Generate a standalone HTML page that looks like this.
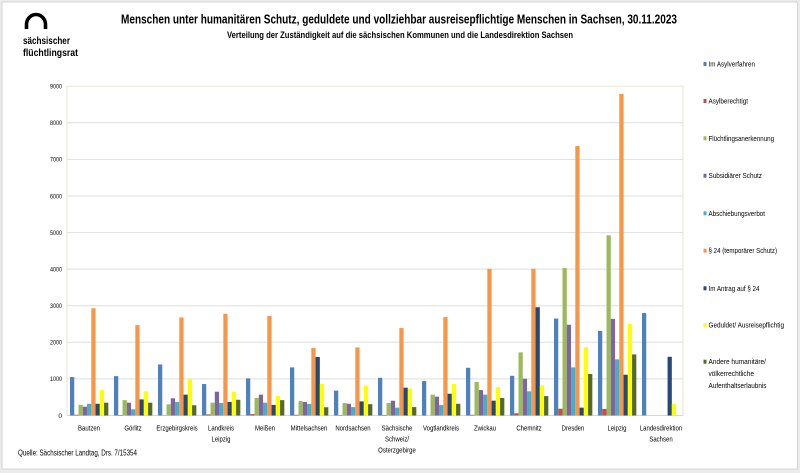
<!DOCTYPE html>
<html><head><meta charset="utf-8"><style>
html,body{margin:0;padding:0;background:#ebebeb;}
svg{display:block;}
text{font-family:"Liberation Sans",sans-serif;fill:#000;}
</style></head><body>
<svg width="800" height="473" viewBox="0 0 800 473" xmlns="http://www.w3.org/2000/svg">
<rect x="0" y="0" width="800" height="473" fill="#ebebeb"/>
<rect x="2" y="2" width="795.5" height="467" fill="#ffffff" stroke="#d4d4d4" stroke-width="1"/>

<!-- logo -->
<path d="M26.5,29 L26.5,24.5 A9.5,10 0 0 1 45.5,24.5 L45.5,29" fill="none" stroke="#000" stroke-width="3.6"/>
<text x="23" y="44" font-size="10" font-weight="bold" textLength="47" lengthAdjust="spacingAndGlyphs">sächsischer</text>
<text x="23" y="56" font-size="10" font-weight="bold" textLength="55" lengthAdjust="spacingAndGlyphs">flüchtlingsrat</text>

<!-- titles -->
<text x="121" y="23.5" font-size="13" font-weight="bold" textLength="556" lengthAdjust="spacingAndGlyphs">Menschen unter humanitären Schutz, geduldete und vollziehbar ausreisepflichtige Menschen in Sachsen, 30.11.2023</text>
<text x="227" y="38" font-size="9.5" font-weight="bold" textLength="346" lengthAdjust="spacingAndGlyphs">Verteilung der Zuständigkeit auf die sächsischen Kommunen und die Landesdirektion Sachsen</text>

<!-- gridlines -->
<g stroke="#dedede" stroke-width="1">
<line x1="67" x2="683" y1="122.8" y2="122.8"/>
<line x1="67" x2="683" y1="159.4" y2="159.4"/>
<line x1="67" x2="683" y1="196" y2="196"/>
<line x1="67" x2="683" y1="232.6" y2="232.6"/>
<line x1="67" x2="683" y1="269.1" y2="269.1"/>
<line x1="67" x2="683" y1="305.7" y2="305.7"/>
<line x1="67" x2="683" y1="342.3" y2="342.3"/>
<line x1="67" x2="683" y1="378.9" y2="378.9"/>
</g>
<rect x="67" y="86.2" width="616" height="329.3" fill="none" stroke="#e6e6d6" stroke-width="1"/>
<line x1="67" x2="683" y1="415.5" y2="415.5" stroke="#d6d6d6" stroke-width="1"/>

<!-- y labels -->
<g font-size="6.5" text-anchor="end">
<text x="62" y="88.5" textLength="12" lengthAdjust="spacingAndGlyphs">9000</text>
<text x="62" y="125.1" textLength="12" lengthAdjust="spacingAndGlyphs">8000</text>
<text x="62" y="161.7" textLength="12" lengthAdjust="spacingAndGlyphs">7000</text>
<text x="62" y="198.3" textLength="12" lengthAdjust="spacingAndGlyphs">6000</text>
<text x="62" y="234.9" textLength="12" lengthAdjust="spacingAndGlyphs">5000</text>
<text x="62" y="271.4" textLength="12" lengthAdjust="spacingAndGlyphs">4000</text>
<text x="62" y="308" textLength="12" lengthAdjust="spacingAndGlyphs">3000</text>
<text x="62" y="344.6" textLength="12" lengthAdjust="spacingAndGlyphs">2000</text>
<text x="62" y="381.2" textLength="12" lengthAdjust="spacingAndGlyphs">1000</text>
<text x="62" y="417.8">0</text>
</g>

<!-- bars -->
<defs>
<style>
.b1{fill:#4f81bd}.b2{fill:#c0504d}.b3{fill:#9bbb59}.b4{fill:#8064a2}.b5{fill:#4bacc6}
.b6{fill:#f79646}.b7{fill:#254a78}.b8{fill:#ffff00}.b9{fill:#56692c}
</style>
</defs>

<g transform="translate(67,415.5) scale(1,-0.03659)">
<rect class="b1" x="3" y="0" width="4.26" height="1050"/>
<rect class="b2" x="7.26" y="0" width="4.26" height="20"/>
<rect class="b3" x="11.52" y="0" width="4.26" height="290"/>
<rect class="b4" x="15.78" y="0" width="4.26" height="240"/>
<rect class="b5" x="20.04" y="0" width="4.26" height="320"/>
<rect class="b6" x="24.3" y="0" width="4.26" height="2930"/>
<rect class="b7" x="28.56" y="0" width="4.26" height="320"/>
<rect class="b8" x="32.82" y="0" width="4.26" height="700"/>
<rect class="b9" x="37.08" y="0" width="4.26" height="350"/>
</g>
<g transform="translate(111,415.5) scale(1,-0.03659)">
<rect class="b1" x="3" y="0" width="4.26" height="1075"/>
<rect class="b2" x="7.26" y="0" width="4.26" height="15"/>
<rect class="b3" x="11.52" y="0" width="4.26" height="420"/>
<rect class="b4" x="15.78" y="0" width="4.26" height="350"/>
<rect class="b5" x="20.04" y="0" width="4.26" height="170"/>
<rect class="b6" x="24.3" y="0" width="4.26" height="2470"/>
<rect class="b7" x="28.56" y="0" width="4.26" height="440"/>
<rect class="b8" x="32.82" y="0" width="4.26" height="660"/>
<rect class="b9" x="37.08" y="0" width="4.26" height="350"/>
</g>
<g transform="translate(155,415.5) scale(1,-0.03659)">
<rect class="b1" x="3" y="0" width="4.26" height="1395"/>
<rect class="b2" x="7.26" y="0" width="4.26" height="5"/>
<rect class="b3" x="11.52" y="0" width="4.26" height="305"/>
<rect class="b4" x="15.78" y="0" width="4.26" height="470"/>
<rect class="b5" x="20.04" y="0" width="4.26" height="370"/>
<rect class="b6" x="24.3" y="0" width="4.26" height="2680"/>
<rect class="b7" x="28.56" y="0" width="4.26" height="570"/>
<rect class="b8" x="32.82" y="0" width="4.26" height="1005"/>
<rect class="b9" x="37.08" y="0" width="4.26" height="280"/>
</g>
<g transform="translate(199,415.5) scale(1,-0.03659)">
<rect class="b1" x="3" y="0" width="4.26" height="860"/>
<rect class="b2" x="7.26" y="0" width="4.26" height="30"/>
<rect class="b3" x="11.52" y="0" width="4.26" height="350"/>
<rect class="b4" x="15.78" y="0" width="4.26" height="650"/>
<rect class="b5" x="20.04" y="0" width="4.26" height="340"/>
<rect class="b6" x="24.3" y="0" width="4.26" height="2780"/>
<rect class="b7" x="28.56" y="0" width="4.26" height="370"/>
<rect class="b8" x="32.82" y="0" width="4.26" height="650"/>
<rect class="b9" x="37.08" y="0" width="4.26" height="430"/>
</g>
<g transform="translate(243,415.5) scale(1,-0.03659)">
<rect class="b1" x="3" y="0" width="4.26" height="1015"/>
<rect class="b2" x="7.26" y="0" width="4.26" height="40"/>
<rect class="b3" x="11.52" y="0" width="4.26" height="480"/>
<rect class="b4" x="15.78" y="0" width="4.26" height="570"/>
<rect class="b5" x="20.04" y="0" width="4.26" height="350"/>
<rect class="b6" x="24.3" y="0" width="4.26" height="2720"/>
<rect class="b7" x="28.56" y="0" width="4.26" height="290"/>
<rect class="b8" x="32.82" y="0" width="4.26" height="530"/>
<rect class="b9" x="37.08" y="0" width="4.26" height="420"/>
</g>
<g transform="translate(287,415.5) scale(1,-0.03659)">
<rect class="b1" x="3" y="0" width="4.26" height="1315"/>
<rect class="b2" x="7.26" y="0" width="4.26" height="20"/>
<rect class="b3" x="11.52" y="0" width="4.26" height="395"/>
<rect class="b4" x="15.78" y="0" width="4.26" height="370"/>
<rect class="b5" x="20.04" y="0" width="4.26" height="315"/>
<rect class="b6" x="24.3" y="0" width="4.26" height="1845"/>
<rect class="b7" x="28.56" y="0" width="4.26" height="1600"/>
<rect class="b8" x="32.82" y="0" width="4.26" height="860"/>
<rect class="b9" x="37.08" y="0" width="4.26" height="225"/>
</g>
<g transform="translate(331,415.5) scale(1,-0.03659)">
<rect class="b1" x="3" y="0" width="4.26" height="680"/>
<rect class="b2" x="7.26" y="0" width="4.26" height="10"/>
<rect class="b3" x="11.52" y="0" width="4.26" height="340"/>
<rect class="b4" x="15.78" y="0" width="4.26" height="320"/>
<rect class="b5" x="20.04" y="0" width="4.26" height="230"/>
<rect class="b6" x="24.3" y="0" width="4.26" height="1860"/>
<rect class="b7" x="28.56" y="0" width="4.26" height="385"/>
<rect class="b8" x="32.82" y="0" width="4.26" height="815"/>
<rect class="b9" x="37.08" y="0" width="4.26" height="310"/>
</g>
<g transform="translate(375,415.5) scale(1,-0.03659)">
<rect class="b1" x="3" y="0" width="4.26" height="1030"/>
<rect class="b2" x="7.26" y="0" width="4.26" height="15"/>
<rect class="b3" x="11.52" y="0" width="4.26" height="340"/>
<rect class="b4" x="15.78" y="0" width="4.26" height="405"/>
<rect class="b5" x="20.04" y="0" width="4.26" height="215"/>
<rect class="b6" x="24.3" y="0" width="4.26" height="2390"/>
<rect class="b7" x="28.56" y="0" width="4.26" height="760"/>
<rect class="b8" x="32.82" y="0" width="4.26" height="740"/>
<rect class="b9" x="37.08" y="0" width="4.26" height="230"/>
</g>
<g transform="translate(419,415.5) scale(1,-0.03659)">
<rect class="b1" x="3" y="0" width="4.26" height="940"/>
<rect class="b3" x="11.52" y="0" width="4.26" height="570"/>
<rect class="b4" x="15.78" y="0" width="4.26" height="515"/>
<rect class="b5" x="20.04" y="0" width="4.26" height="285"/>
<rect class="b6" x="24.3" y="0" width="4.26" height="2690"/>
<rect class="b7" x="28.56" y="0" width="4.26" height="595"/>
<rect class="b8" x="32.82" y="0" width="4.26" height="860"/>
<rect class="b9" x="37.08" y="0" width="4.26" height="320"/>
</g>
<g transform="translate(463,415.5) scale(1,-0.03659)">
<rect class="b1" x="3" y="0" width="4.26" height="1305"/>
<rect class="b2" x="7.26" y="0" width="4.26" height="20"/>
<rect class="b3" x="11.52" y="0" width="4.26" height="915"/>
<rect class="b4" x="15.78" y="0" width="4.26" height="695"/>
<rect class="b5" x="20.04" y="0" width="4.26" height="570"/>
<rect class="b6" x="24.3" y="0" width="4.26" height="4010"/>
<rect class="b7" x="28.56" y="0" width="4.26" height="405"/>
<rect class="b8" x="32.82" y="0" width="4.26" height="780"/>
<rect class="b9" x="37.08" y="0" width="4.26" height="480"/>
</g>
<g transform="translate(507,415.5) scale(1,-0.03659)">
<rect class="b1" x="3" y="0" width="4.26" height="1085"/>
<rect class="b2" x="7.26" y="0" width="4.26" height="60"/>
<rect class="b3" x="11.52" y="0" width="4.26" height="1725"/>
<rect class="b4" x="15.78" y="0" width="4.26" height="1005"/>
<rect class="b5" x="20.04" y="0" width="4.26" height="660"/>
<rect class="b6" x="24.3" y="0" width="4.26" height="4010"/>
<rect class="b7" x="28.56" y="0" width="4.26" height="2960"/>
<rect class="b8" x="32.82" y="0" width="4.26" height="825"/>
<rect class="b9" x="37.08" y="0" width="4.26" height="530"/>
</g>
<g transform="translate(551,415.5) scale(1,-0.03659)">
<rect class="b1" x="3" y="0" width="4.26" height="2650"/>
<rect class="b2" x="7.26" y="0" width="4.26" height="185"/>
<rect class="b3" x="11.52" y="0" width="4.26" height="4030"/>
<rect class="b4" x="15.78" y="0" width="4.26" height="2480"/>
<rect class="b5" x="20.04" y="0" width="4.26" height="1315"/>
<rect class="b6" x="24.3" y="0" width="4.26" height="7365"/>
<rect class="b7" x="28.56" y="0" width="4.26" height="215"/>
<rect class="b8" x="32.82" y="0" width="4.26" height="1865"/>
<rect class="b9" x="37.08" y="0" width="4.26" height="1135"/>
</g>
<g transform="translate(595,415.5) scale(1,-0.03659)">
<rect class="b1" x="3" y="0" width="4.26" height="2310"/>
<rect class="b2" x="7.26" y="0" width="4.26" height="180"/>
<rect class="b3" x="11.52" y="0" width="4.26" height="4925"/>
<rect class="b4" x="15.78" y="0" width="4.26" height="2640"/>
<rect class="b5" x="20.04" y="0" width="4.26" height="1535"/>
<rect class="b6" x="24.3" y="0" width="4.26" height="8785"/>
<rect class="b7" x="28.56" y="0" width="4.26" height="1115"/>
<rect class="b8" x="32.82" y="0" width="4.26" height="2500"/>
<rect class="b9" x="37.08" y="0" width="4.26" height="1670"/>
</g>
<g transform="translate(639,415.5) scale(1,-0.03659)">
<rect class="b1" x="3" y="0" width="4.26" height="2800"/>
<rect class="b7" x="28.56" y="0" width="4.26" height="1605"/>
<rect class="b8" x="32.82" y="0" width="4.26" height="320"/>
</g>

<!-- x labels -->
<g font-size="7.5" text-anchor="middle">
<g transform="translate(89,430.5) scale(0.8,1)"><text x="0" y="0">Bautzen</text></g>
<g transform="translate(133,430.5) scale(0.8,1)"><text x="0" y="0">Görlitz</text></g>
<g transform="translate(177,430.5) scale(0.8,1)"><text x="0" y="0">Erzgebirgskreis</text></g>
<g transform="translate(221,430.5) scale(0.8,1)"><text x="0" y="0">Landkreis</text><text x="0" y="11">Leipzig</text></g>
<g transform="translate(265,430.5) scale(0.8,1)"><text x="0" y="0">Meißen</text></g>
<g transform="translate(309,430.5) scale(0.8,1)"><text x="0" y="0">Mittelsachsen</text></g>
<g transform="translate(353,430.5) scale(0.8,1)"><text x="0" y="0">Nordsachsen</text></g>
<g transform="translate(397,430.5) scale(0.8,1)"><text x="0" y="0">Sächsische</text><text x="0" y="11">Schweiz/</text><text x="0" y="22">Osterzgebirge</text></g>
<g transform="translate(441,430.5) scale(0.8,1)"><text x="0" y="0">Vogtlandkreis</text></g>
<g transform="translate(485,430.5) scale(0.8,1)"><text x="0" y="0">Zwickau</text></g>
<g transform="translate(529,430.5) scale(0.8,1)"><text x="0" y="0">Chemnitz</text></g>
<g transform="translate(573,430.5) scale(0.8,1)"><text x="0" y="0">Dresden</text></g>
<g transform="translate(617,430.5) scale(0.8,1)"><text x="0" y="0">Leipzig</text></g>
<g transform="translate(661,430.5) scale(0.8,1)"><text x="0" y="0">Landesdirektion</text><text x="0" y="11">Sachsen</text></g>
</g>

<!-- source -->
<text x="18" y="455.5" font-size="8" textLength="119" lengthAdjust="spacingAndGlyphs">Quelle: Sächsischer Landtag, Drs. 7/15354</text>

<!-- legend -->
<g font-size="7.5">
<rect x="703.5" y="62" width="3" height="4" class="b1"/>
<text x="708.5" y="66.5" textLength="46.5" lengthAdjust="spacingAndGlyphs">Im Asylverfahren</text>
<rect x="703.5" y="99" width="3" height="4" class="b2"/>
<text x="708.5" y="103.5" textLength="39.5" lengthAdjust="spacingAndGlyphs">Asylberechtigt</text>
<rect x="703.5" y="136.3" width="3" height="4" class="b3"/>
<text x="708.5" y="140.8" textLength="65.5" lengthAdjust="spacingAndGlyphs">Flüchtlingsanerkennung</text>
<rect x="703.5" y="173.7" width="3" height="4" class="b4"/>
<text x="708.5" y="178.2" textLength="53.5" lengthAdjust="spacingAndGlyphs">Subsidiärer Schutz</text>
<rect x="703.5" y="211.3" width="3" height="4" class="b5"/>
<text x="708.5" y="215.8" textLength="56.5" lengthAdjust="spacingAndGlyphs">Abschiebungsverbot</text>
<rect x="703.5" y="248.7" width="3" height="4" class="b6"/>
<text x="708.5" y="253.2" textLength="68.5" lengthAdjust="spacingAndGlyphs">§ 24 (temporärer Schutz)</text>
<rect x="703.5" y="286.3" width="3" height="4" class="b7"/>
<text x="708.5" y="290.8" textLength="51" lengthAdjust="spacingAndGlyphs">Im Antrag auf § 24</text>
<rect x="703.5" y="323" width="3" height="4" class="b8"/>
<text x="708.5" y="327.5" textLength="75.5" lengthAdjust="spacingAndGlyphs">Geduldet/ Ausreisepflichtig</text>
<rect x="703.5" y="359.7" width="3" height="4" class="b9"/>
<text x="708.5" y="364.2" textLength="57.5" lengthAdjust="spacingAndGlyphs">Andere humanitäre/</text>
<text x="708.5" y="376" textLength="45.5" lengthAdjust="spacingAndGlyphs">völkerrechtliche</text>
<text x="708.5" y="388" textLength="58" lengthAdjust="spacingAndGlyphs">Aufenthaltserlaubnis</text>
</g>
</svg>
</body></html>
